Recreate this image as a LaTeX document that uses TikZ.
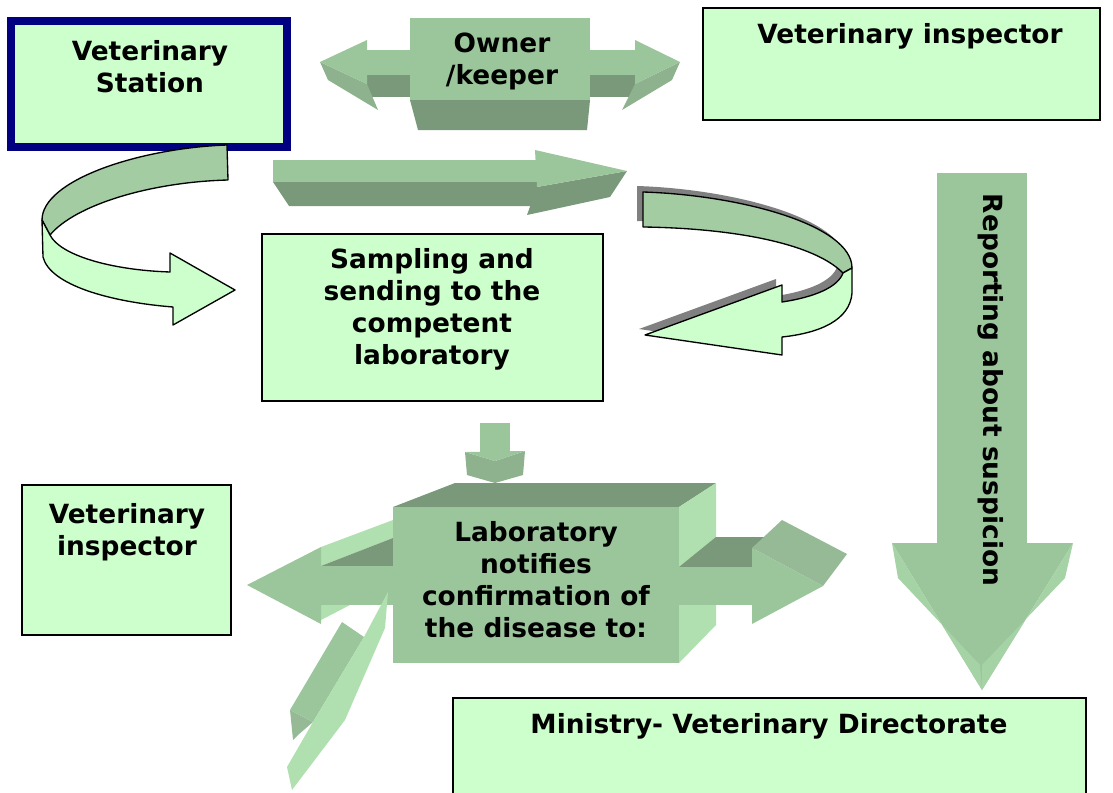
\documentclass[tikz,border=0pt]{standalone}
\usepackage{fontspec}
\setmainfont{DejaVu Sans}
\usepackage{tikz}
\usetikzlibrary{positioning}
\usepackage{xcolor}
\definecolor{boxgreen}{HTML}{CCFFCC}
\definecolor{stationblue}{HTML}{000080}
\definecolor{facegreen}{HTML}{9BC59B}
\definecolor{darkgreen}{HTML}{7A997A}
\definecolor{lightgreen}{HTML}{B0E0B0}
\definecolor{midgreen}{HTML}{8DB28D}
\definecolor{headgreen}{HTML}{95BA95}
\definecolor{ribbongreen}{HTML}{A3CCA3}
\definecolor{bevelgreen}{HTML}{A6D3A6}

\begin{document}
\begin{tikzpicture}[x=0.75pt,y=-0.75pt,
	box/.style={fill=boxgreen,draw=black,line width=1pt},
	txt/.style={font=\bfseries\fontsize{19.8}{24}\selectfont,align=center,inner sep=0pt,anchor=north},
	face/.style={fill=facegreen},
	under/.style={fill=darkgreen},
	side/.style={fill=lightgreen},
	bevel/.style={fill=midgreen},
	ribbon/.style={draw=black,line width=1pt,line join=round}]
			\useasboundingbox (0,0) rectangle (1113,792);
			% boxes
			\coordinate (st1) at (11,21);
			\coordinate (st2) at (287,147);
			\coordinate (vi1) at (703,8);
			\coordinate (vi2) at (1100,120);
			\coordinate (sa1) at (262,234);
			\coordinate (sa2) at (603,401);
			\coordinate (li1) at (22,485);
			\coordinate (li2) at (231,635);
			\coordinate (mi1) at (453,698);
			\coordinate (mi2) at (1086,800);
			\draw[fill=boxgreen,draw=stationblue,line width=6pt] (st1) rectangle (st2);
			\foreach \Box in {vi,sa,li,mi}
				\draw[box] (\Box1) rectangle (\Box2);

			% owner/keeper double arrow
			\fill[under] (410,100) -- (590,100) -- (587,130) -- (418,130) -- cycle;
			\fill[under] (367,75) rectangle (410,97);
			\fill[under] (590,75) rectangle (635,97);
			\fill[face] (367,50) rectangle (410,75);
			\fill[face] (590,50) rectangle (635,75);
			\fill[bevel] (320,62) -- (367,84) -- (378,110) -- (328,80) -- cycle;
			\fill[bevel] (680,62) -- (635,84) -- (622,110) -- (672,80) -- cycle;
			\fill[face] (367,40) -- (320,62) -- (367,84) -- cycle;
			\fill[face] (635,40) -- (680,62) -- (635,84) -- cycle;
			\fill[face] (410,18) rectangle (590,100);

			% straight arrow
			\fill[under] (273,182) -- (537,182) -- (537,206) -- (289,206) -- cycle;
			\fill[face] (273,160) rectangle (537,182);
			\fill[under] (537,187) -- (627,171) -- (610,197) -- (527,215) -- cycle;
			\fill[face] (535,150) -- (627,171) -- (537,187) -- cycle;

			% left ribbon
			\draw[ribbon,fill=ribbongreen] (227,145) .. controls (140,148) and (42,180) .. (42,220)
				-- (50,235) .. controls (75,205) and (150,182) .. (228,180) -- cycle;
			\draw[ribbon,fill=boxgreen] (42,220) -- (43,257) .. controls (50,285) and (110,302) .. (173,307)
				-- (173,325) -- (235,290) -- (170,253) -- (170,272)
				.. controls (110,270) and (60,255) .. (50,235) -- cycle;

			% right ribbon with shadow
			\begin{scope}[shift={(-6,-6)}]
				\fill[gray] (643,192) .. controls (740,195) and (852,225) .. (852,268)
					-- (852,293) .. controls (850,320) and (820,333) .. (782,337)
					-- (782,355) -- (645,335) -- (782,285) -- (782,302)
					.. controls (815,297) and (838,287) .. (843,273)
					.. controls (810,240) and (720,228) .. (643,227) -- cycle;
			\end{scope}
			\draw[ribbon,fill=ribbongreen] (643,192) .. controls (740,195) and (852,225) .. (852,268)
				-- (843,273) .. controls (810,240) and (720,228) .. (643,227) -- cycle;
			\draw[ribbon,fill=boxgreen] (843,273) -- (852,268) -- (852,293)
				.. controls (850,320) and (820,333) .. (782,337)
				-- (782,355) -- (645,335) -- (782,285) -- (782,302)
				.. controls (815,297) and (838,287) .. (843,273) -- cycle;

			% small arrow to the laboratory
			\fill[face] (480,423) rectangle (510,452);
			\fill[bevel] (465,452) -- (495,461) -- (525,451) -- (523,475) -- (495,483) -- (467,475) -- cycle;
			\fill[face] (465,452) -- (525,451) -- (495,461) -- cycle;

			% laboratory block
			\fill[side] (321,547) -- (393,520) -- (393,538) -- (321,566) -- cycle;
			\fill[under] (321,566) -- (393,538) -- (393,566) -- cycle;
			\fill[side] (321,605) -- (350,605) -- (321,620) -- cycle;
			\fill[face] (321,566) rectangle (393,605);
			\fill[face] (321,547) -- (247,585) -- (321,624) -- cycle;
			\fill[under] (393,507) -- (455,483) -- (716,483) -- (679,507) -- cycle;
			\fill[side] (679,507) -- (716,483) -- (716,625) -- (679,663) -- cycle;
			\fill[face] (393,507) rectangle (679,663);
			\fill[under] (679,567) -- (716,537) -- (770,537) -- (752,552) -- (752,567) -- cycle;
			\fill[face] (679,567) rectangle (752,605);
			\fill[headgreen] (752,548) -- (782,520) -- (847,554) -- (823,586) -- cycle;
			\fill[face] (752,548) -- (823,586) -- (752,624) -- cycle;
			\fill[headgreen] (290,710) -- (313,722) -- (298,735) -- (293,740) -- cycle;
			\fill[face] (342,622) -- (364,637) -- (313,722) -- (290,710) -- cycle;
			\fill[side] (388,592) -- (385,628) -- (345,720) -- (292,790) -- (287,767)
				-- (313,722) -- (364,637) -- cycle;

			% reporting arrow
			\fill[face] (937,173) rectangle (1027,543);
			\fill[face] (892,543) -- (1073,543) -- (982,690) -- cycle;
			\fill[bevelgreen] (892,543) -- (898,578) -- (980,665) -- (982,690) -- cycle;
			\fill[bevelgreen] (1073,543) -- (1065,578) -- (982,665) -- (982,690) -- cycle;

			% texts
			\node[txt] (station) at (150,40) {Veterinary\\Station};
			\node[txt] (owner) at (502,33) {Owner\\/keeper};
			\node[txt] (inspectortop) at (910,23) {Veterinary inspector};
			\node[txt] (sampling) at (432,248) {Sampling and\\sending to the\\competent\\laboratory};
			\node[txt] (inspectorleft) at (127,503) {Veterinary\\inspector};
			\node[txt] (lab) at (536,521) {Laboratory\\notifies\\confirmation of\\the disease to:};
			\node[txt] (ministry) at (769,713) {Ministry- Veterinary Directorate};
			\node[txt,anchor=center,rotate=-90] (reporting) at (991,390) {Reporting about suspicion};
		\end{tikzpicture}
\end{document}
